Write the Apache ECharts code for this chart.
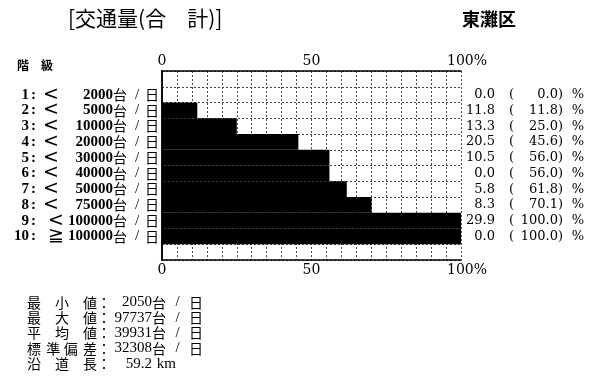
<!DOCTYPE html>
<html>
<head>
<meta charset="utf-8">
<script src="https://cdn.jsdelivr.net/npm/echarts@6/dist/echarts.min.js"></script>
<style>
  html, body { margin: 0; padding: 0; background: #fff; }
  #chart { width: 597px; height: 378px; }
</style>
</head>
<body>
<div id="chart"></div>
<script>
// class data
const classNo = ['1', '2', '3', '4', '5', '6', '7', '8', '9', '10'];
const classSym = ['<', '<', '<', '<', '<', '<', '<', '<', '<', '≧'];
const classLimit = [2000, 5000, 10000, 20000, 30000, 40000, 50000, 75000, 100000, 100000];
const pctShare = [0.0, 11.8, 13.3, 20.5, 10.5, 0.0, 5.8, 8.3, 29.9, 0.0];
const pctCum = [0.0, 11.8, 25.0, 45.6, 56.0, 56.0, 61.8, 70.1, 100.0, 100.0];
const xTickShown = [0, 50, 100];

const statNames = ['最小値', '最大値', '平均値', '標準偏差', '沿道長'];
const statValues = ['2050', '97737', '39931', '32308', '59.2'];
const statUnits = ['台/日', '台/日', '台/日', '台/日', 'km'];

// one padding row above and below the ten classes
const rows = ['padTop'].concat(classNo, ['padBottom']);
const barData = ['-'].concat(pctCum, ['-']);

const SERIF = 'Liberation Serif';
const SERIF2 = 'DejaVu Serif';
const CJK = 'Noto Sans CJK JP';

// fonts for the rich text pieces
const fBold = { fontFamily: SERIF, fontWeight: 'bold', fontSize: 15 };
const fSym = { fontFamily: 'DejaVu Sans', fontWeight: 'normal', fontSize: 19 };
const fCjk = { fontFamily: CJK, fontWeight: 'normal', fontSize: 14 };
const fSerif = { fontFamily: SERIF, fontWeight: 'normal', fontSize: 15 };
const fNum = { fontFamily: SERIF2, fontWeight: 'normal', fontSize: 13 };

const ctx = document.createElement('canvas').getContext('2d');
function measure(text, f) {
    ctx.font = f.fontWeight + ' ' + f.fontSize + 'px "' + f.fontFamily + '"';
    return ctx.measureText(text).width;
}

// lay text pieces into fixed-width boxes (padding does the alignment)
function boxes(parts, prefix, rich) {
    return parts.map(function (p, j) {
        const key = prefix + '_' + j;
        const free = Math.max(0, p.w - measure(p.t, p.f));
        const left = p.a === 'right' ? free : (p.a === 'center' ? free / 2 : 0);
        rich[key] = Object.assign({ color: '#000', fill: '#000', lineHeight: 16 }, p.f,
            { padding: [0, free - left, 0, left] });
        return '{' + key + '|' + p.t + '}';
    }).join('');
}

const leftRich = {};
const leftText = classNo.map(function (no, i) {
    return boxes([
        { t: no, f: fBold, w: 26, a: 'right' },
        { t: ':', f: fBold, w: 9, a: 'center' },
        { t: classSym[i], f: fSym, w: 26, a: i >= 8 ? 'right' : 'center' },
        { t: String(classLimit[i]), f: fBold, w: 49, a: 'right' },
        { t: '台', f: fCjk, w: 16, a: 'left' },
        { t: '/', f: fSerif, w: 16, a: 'center' },
        { t: '日', f: fCjk, w: 14, a: 'right' }
    ], 'l' + i, leftRich);
});

const rightRich = {};
const rightText = pctShare.map(function (v, i) {
    return boxes([
        { t: v.toFixed(1), f: fNum, w: 32, a: 'right' },
        { t: '(', f: fNum, w: 19, a: 'right' },
        { t: pctCum[i].toFixed(1) + ')', f: fNum, w: 49, a: 'right' },
        { t: '%', f: fNum, w: 30, a: 'center' }
    ], 'r' + i, rightRich);
});

function xLabel(v) {
    if (xTickShown.indexOf(v) < 0) return '';
    if (v === 100) return '{p|100%}';
    return String(v);
}

const xLabelStyle = {
    color: '#000',
    fontFamily: SERIF2,
    fontSize: 14,
    formatter: xLabel,
    rich: { p: { fontFamily: SERIF2, fontSize: 14, color: '#000', padding: [0, 0, 0, 12] } }
};

const dotted = { color: '#444', width: 1, type: [2, 2] };

// bottom statistics block
const statGraphics = statNames.map(function (name, k) {
    const chars = name.split('');
    const w = 70 / chars.length;
    const rich = {};
    const parts = chars.map(function (ch, j) {
        return { t: ch, f: fCjk, w: w, a: j === 0 ? 'left' : (j === chars.length - 1 ? 'right' : 'center') };
    });
    parts.push({ t: '：', f: fCjk, w: 12, a: 'center' });
    parts.push({ t: statValues[k], f: fSerif, w: 41, a: 'right' });
    if (statUnits[k] === 'km') {
        parts.push({ t: 'km', f: fSerif, w: 24, a: 'right' });
    } else {
        parts.push({ t: '台', f: fCjk, w: 17, a: 'left' });
        parts.push({ t: '/', f: fSerif, w: 17, a: 'center' });
        parts.push({ t: '日', f: fCjk, w: 17, a: 'right' });
    }
    return {
        type: 'text',
        left: 27,
        top: 295 + k * 15.3,
        style: { text: boxes(parts, 's' + k, rich), rich: rich, fill: '#000' }
    };
});

const chart = echarts.init(document.getElementById('chart'), null, { renderer: 'canvas' });

const option = {
    backgroundColor: '#fff',
    animation: false,
    grid: { left: 161, top: 71, width: 300, height: 189, containLabel: false },
    xAxis: [{
        type: 'value',
        position: 'top',
        min: 0,
        max: 100,
        interval: 5,
        axisLine: { show: true, lineStyle: { color: '#000', width: 1.5 } },
        axisTick: { show: false },
        axisLabel: Object.assign({ margin: 3 }, xLabelStyle),
        splitLine: { show: true, lineStyle: dotted }
    }, {
        type: 'value',
        position: 'bottom',
        min: 0,
        max: 100,
        interval: 5,
        axisLine: { show: true, lineStyle: { color: '#000', width: 1.5 } },
        axisTick: { show: false },
        axisLabel: Object.assign({ margin: 3 }, xLabelStyle),
        splitLine: { show: false }
    }],
    yAxis: [{
        type: 'category',
        position: 'left',
        inverse: true,
        data: rows,
        axisLine: { show: true, lineStyle: { color: '#000', width: 1.5 } },
        axisTick: { show: false },
        axisLabel: {
            interval: 0,
            margin: 3,
            rich: leftRich,
            formatter: function (value, idx) {
                return idx >= 1 && idx <= 10 ? leftText[idx - 1] : '';
            }
        },
        splitLine: { show: true, interval: 0, lineStyle: dotted }
    }, {
        type: 'category',
        position: 'right',
        inverse: true,
        data: rows,
        axisLine: { show: true, lineStyle: { color: '#000', width: 1.5 } },
        axisTick: { show: false },
        axisLabel: {
            interval: 0,
            margin: 2,
            rich: rightRich,
            formatter: function (value, idx) {
                return idx >= 1 && idx <= 10 ? rightText[idx - 1] : '';
            }
        },
        splitLine: { show: false }
    }],
    series: [{
        type: 'bar',
        xAxisIndex: 0,
        yAxisIndex: 0,
        data: barData,
        barWidth: '100%',
        barCategoryGap: 0,
        itemStyle: { color: '#000' },
        silent: true
    }],
    graphic: [{
        type: 'text',
        left: 68,
        top: 8,
        style: { text: '[交通量(合　計)]', font: '21px "Noto Sans CJK JP"', fill: '#000' }
    }, {
        type: 'text',
        left: 462,
        top: 10,
        style: { text: '東灘区', font: 'bold 18px "Noto Sans CJK JP"', fill: '#000' }
    }, {
        type: 'text',
        left: 17,
        top: 59,
        style: { text: '階　級', font: 'bold 12px "Noto Sans CJK JP"', fill: '#000' }
    }].concat(statGraphics)
};

chart.setOption(option);
</script>
</body>
</html>
